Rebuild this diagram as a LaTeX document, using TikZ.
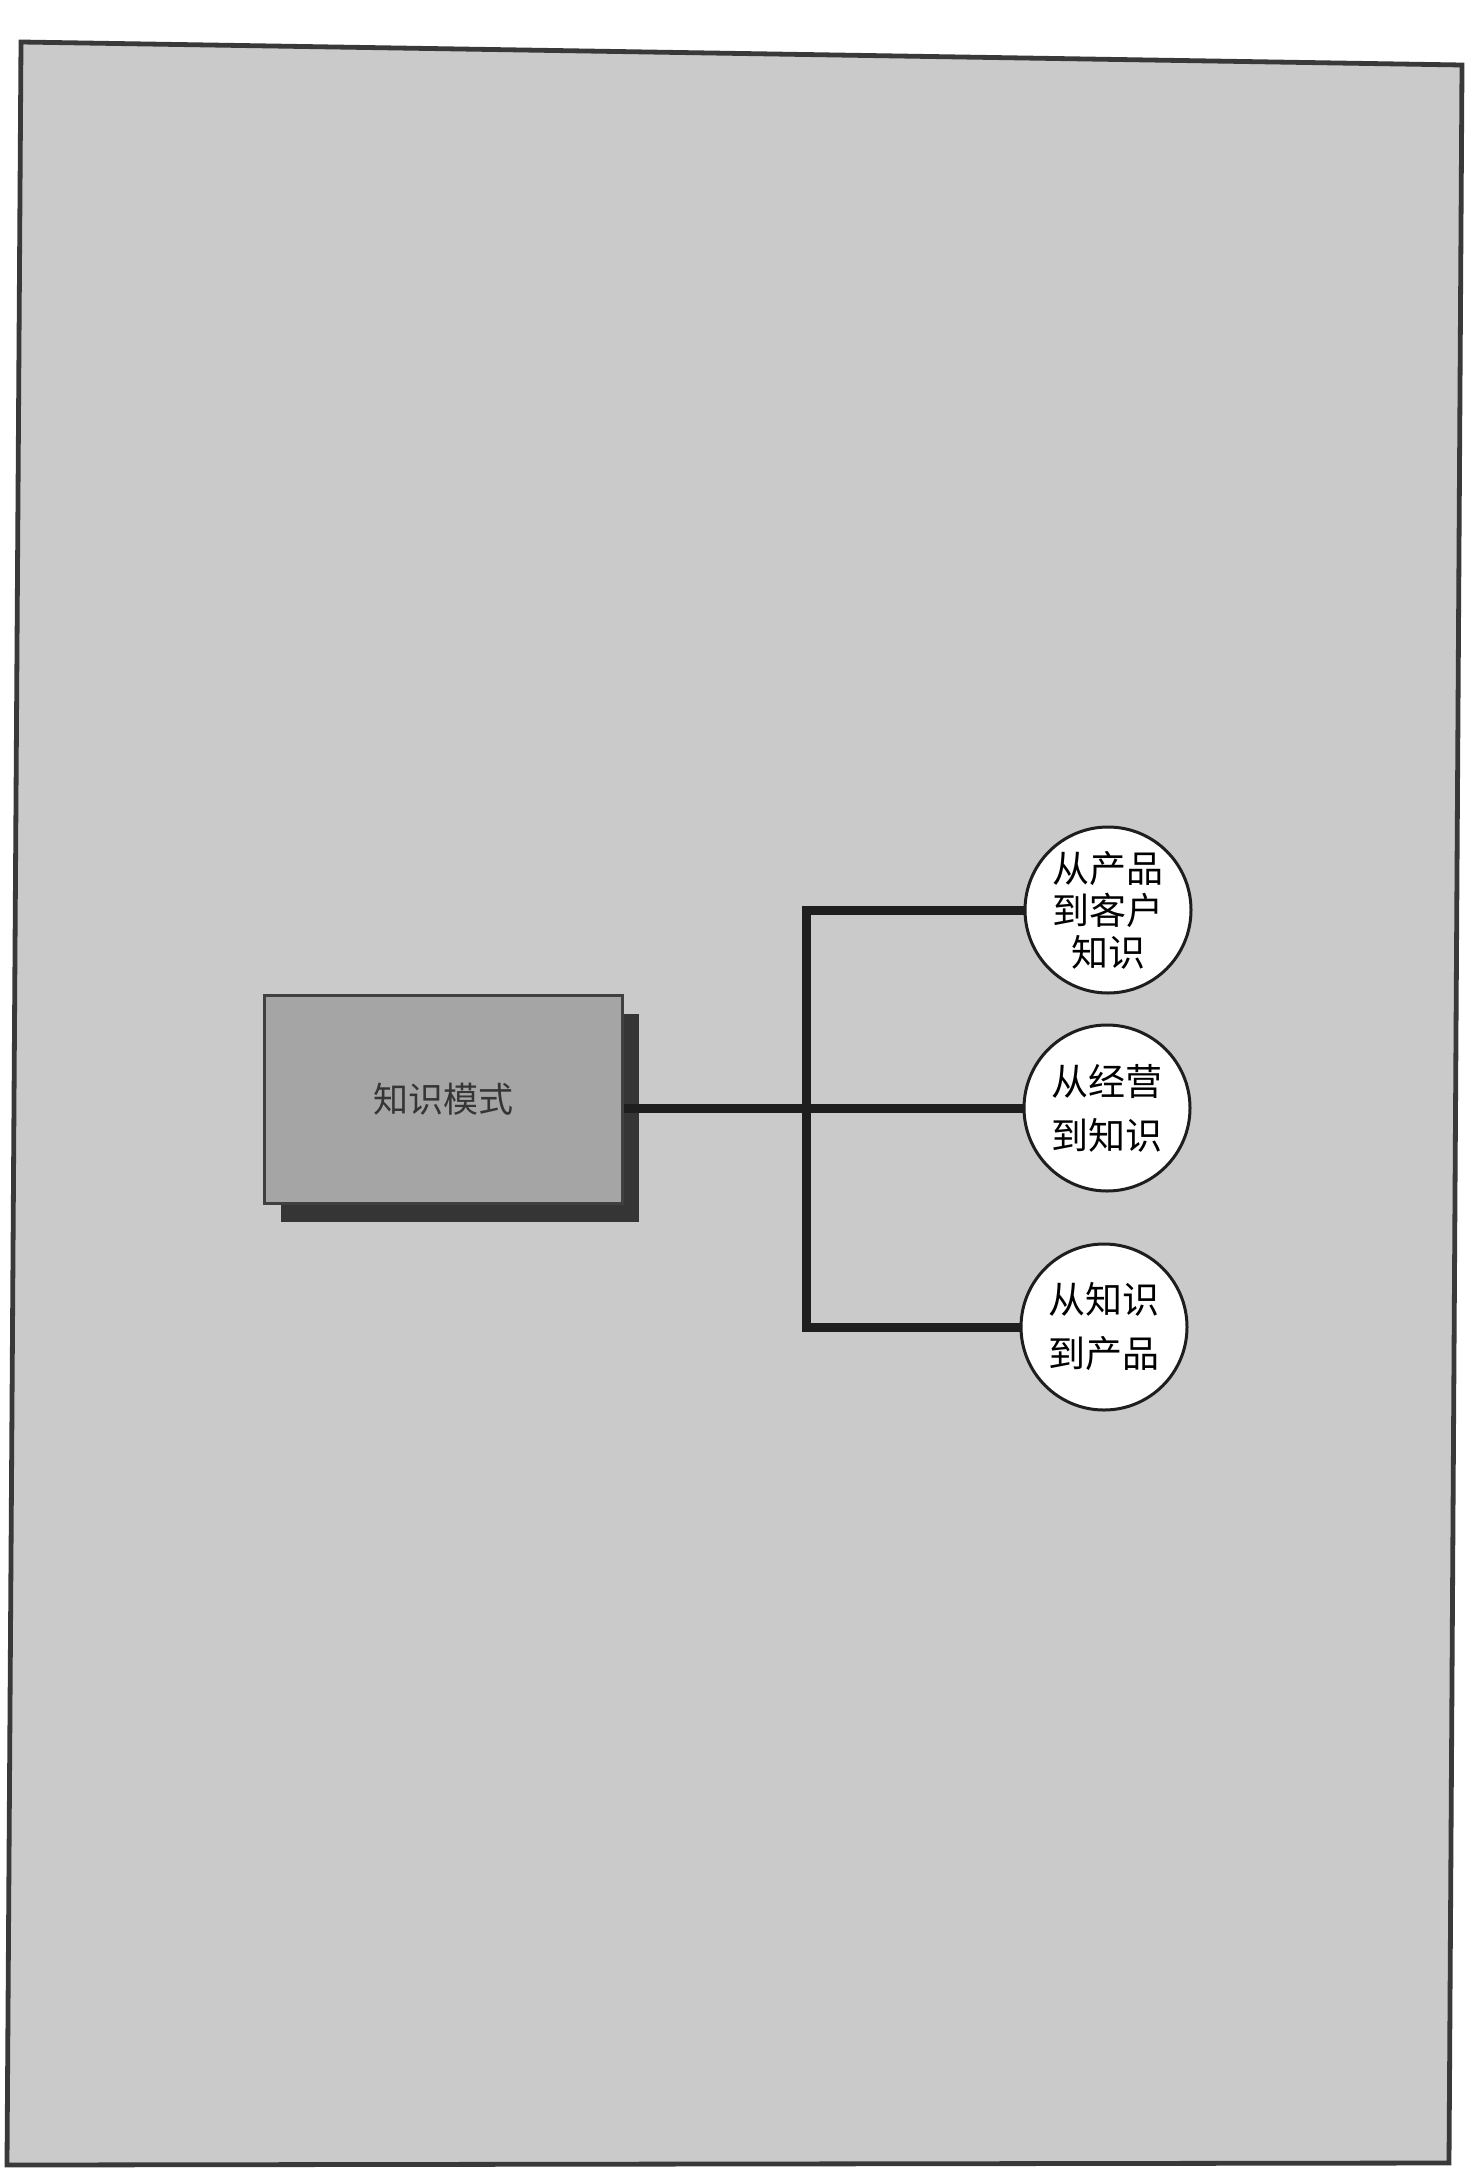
\documentclass[tikz,border=0pt]{standalone}
\usepackage{fontspec}
\newfontfamily\cjk{Noto Sans CJK SC}
\usetikzlibrary{shadows}
\definecolor{paper}{RGB}{202,202,202}
\definecolor{boxgray}{RGB}{165,165,165}
\definecolor{ink}{RGB}{30,30,30}
\begin{document}
\begin{tikzpicture}[x=0.5pt,y=-0.5pt,
    link/.style={draw=ink,line width=4.5pt},
    idea/.style={circle,draw=ink,line width=1.5pt,fill=white,minimum size=83pt,inner sep=0pt,align=center,font=\cjk\fontsize{18.5}{21}\selectfont},
    modebox/.style={rectangle,draw=ink!85,line width=1.5pt,fill=boxgray,minimum width=179pt,minimum height=104pt,font=\cjk\fontsize{17.5}{20}\selectfont,text=ink!90,
        general shadow={fill=ink!90,shadow xshift=8.5pt,shadow yshift=-9.5pt}}]
    \useasboundingbox[fill=white] (0,0) rectangle (1470,2178);
    \draw[fill=paper,draw=gray!45!black,line width=2.4pt] (21,42) -- (1462,65) -- (1449,2163) -- (7,2165) -- cycle;
    \node[modebox] (mode) at (443,1099) {知识模式};
    \node[idea] (customer) at (1108,910) {从产品\\到客户\\知识};
    \node[idea] (business) at (1107,1108) {从经营\\[6pt]到知识};
    \node[idea] (product) at (1104,1327) {从知识\\[6pt]到产品};
    \coordinate (jn) at (806,1108);
    \draw[link] (customer.west) -| (jn) |- (product.west);
    \draw[link] (mode.east |- business.west) -- (business.west);
\end{tikzpicture}
\end{document}
